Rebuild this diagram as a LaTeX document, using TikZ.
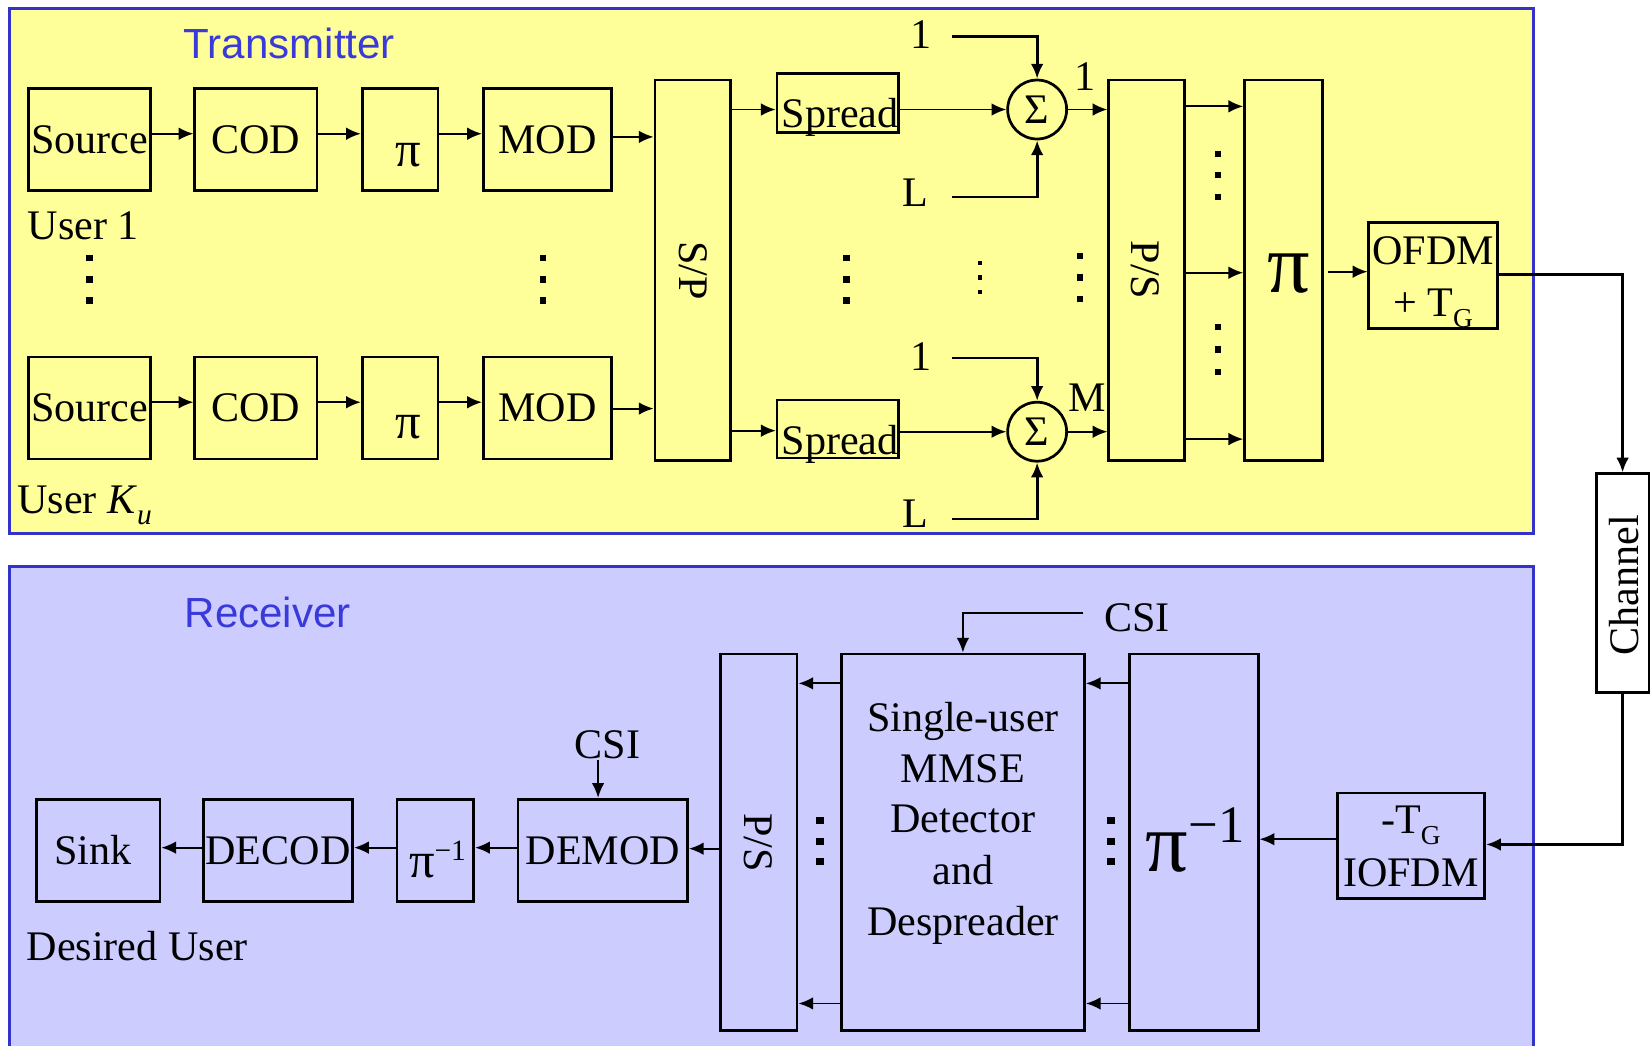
\documentclass[tikz,border=0pt]{standalone}
\usepackage{fontspec}
\setmainfont{Liberation Serif}
\newfontfamily\sansf{Liberation Sans}
\usetikzlibrary{arrows.meta}
\definecolor{txyellow}{HTML}{FFFF99}
\definecolor{rxblue}{HTML}{CCCCFF}
\definecolor{panelblue}{HTML}{3333CC}
\definecolor{titleblue}{HTML}{3A3ADB}
\newcommand\mydot[4]{\fill (#1-#3,#2-#4) rectangle (#1+#3,#2+#4);}
\begin{document}
\begin{tikzpicture}[x=0.5pt,y=-0.5pt,
  every node/.style={font=\fontsize{20}{24}\selectfont, inner sep=0pt},
  blk/.style={draw, line width=1.3pt, rectangle},
  lbl/.style={anchor=base},
  ttl/.style={font=\sansf\fontsize{20}{24}\selectfont, text=titleblue},
  arr/.style={line width=0.9pt, -{Latex[length=7pt,width=6pt]}},
  feed/.style={line width=1.3pt, -{Latex[length=7pt,width=6pt]}},
  bigpi/.style={font=\fontsize{40}{44}\selectfont}
]
\useasboundingbox (0,0) rectangle (1568,993);
% panels
\path[fill=txyellow, draw=panelblue, line width=1.5pt] (9,8) rectangle (1456,507);
\fill[rxblue] (9,538) rectangle (1456,993);
\draw[panelblue, line width=1.5pt] (9,993) -- (9,538) -- (1456,538) -- (1456,993);
\node[ttl, anchor=base west] (ttx) at (174,56) {Transmitter};
\node[ttl, anchor=base west] (trx) at (175,596) {Receiver};

% ---------- transmitter, user 1 ----------
\node[blk, minimum width=58pt, minimum height=48.5pt] (src1) at (85,132.5) {Source};
\node[blk, minimum width=58pt, minimum height=48.5pt] (cod1) at (243,132.5) {COD};
\node[blk, minimum width=36pt, minimum height=48.5pt] (pi1) at (380,132.5) {};
\node[lbl, font=\fontsize{24}{24}\selectfont] (pi1t) at (388,158) {π};
\node[blk, minimum width=61pt, minimum height=48.5pt] (mod1) at (520,132.5) {MOD};
% ---------- user Ku ----------
\node[blk, minimum width=58pt, minimum height=48.5pt] (src2) at (85,387.5) {Source};
\node[blk, minimum width=58pt, minimum height=48.5pt] (cod2) at (243,387.5) {COD};
\node[blk, minimum width=36pt, minimum height=48.5pt] (pi2) at (380,387.5) {};
\node[lbl, font=\fontsize{24}{24}\selectfont] (pi2t) at (388,416) {π};
\node[blk, minimum width=61pt, minimum height=48.5pt] (mod2) at (520,387.5) {MOD};

\node[anchor=base west] (u1) at (26,227) {User 1};
\node[anchor=base west] (uk) at (16,488) {User \textit{K}\raisebox{-5pt}{\fontsize{14}{14}\selectfont\textit{u}}};

% S/P
\node[blk, minimum width=36pt, minimum height=180.5pt] (sp) at (658,256.5) {};
\node[rotate=-90] (spt) at (658,257) {S/P};
% spread
\node[blk, minimum width=57.5pt, minimum height=28pt] (spr1) at (795.5,98) {};
\node[lbl] (spr1t) at (798,121) {Spread};
\node[blk, minimum width=57.5pt, minimum height=27.5pt] (spr2) at (795.5,407.5) {};
\node[lbl] (spr2t) at (798,432) {Spread};
% sums
\node[draw, circle, line width=1.3pt, minimum size=28pt] (sig1) at (985,104) {Σ};
\node[draw, circle, line width=1.3pt, minimum size=28pt] (sig2) at (985,410) {Σ};
\node[lbl] (l1a) at (875,46) {1};
\node[lbl] (lLa) at (869,196) {L};
\node[lbl] (l1b) at (875,352) {1};
\node[lbl] (lLb) at (869,501) {L};
\node[lbl] (o1) at (1030,86) {1};
\node[lbl] (oM) at (1033,391) {M};
\coordinate (in1a) at (904,35);
\coordinate (inLa) at (904,187);
\coordinate (in1b) at (904,340);
\coordinate (inLb) at (904,493);
% P/S and interleaver
\node[blk, minimum width=36pt, minimum height=180.5pt] (ps) at (1089,256.5) {};
\node[rotate=-90] (pst) at (1088,256.5) {P/S};
\node[blk, minimum width=37pt, minimum height=180.5pt] (pib) at (1219,256.5) {};
\node[lbl, bigpi] (pibt) at (1224,278) {π};
% OFDM
\node[blk, minimum width=61pt, minimum height=50.5pt] (ofdm) at (1361,261.5) {};
\node[lbl] (ofdmt1) at (1361,251.5) {OFDM};
\node[lbl] (ofdmt2) at (1361,301) {+ T\raisebox{-5pt}{\fontsize{13}{13}\selectfont G}};
% channel
\node[blk, fill=white, minimum width=25pt, minimum height=104pt] (chan) at (1541,554) {};
\node[rotate=90] (chant) at (1542,556) {Channel};

% dots transmitter
\foreach \x in {85,516,804}{\mydot{\x}{245}{3}{3}\mydot{\x}{265.5}{3}{3}\mydot{\x}{285.5}{3}{3}}
\mydot{1026}{243}{3}{3}\mydot{1026}{263.5}{3}{3}\mydot{1026}{284}{3}{3}
\mydot{931}{250}{2}{2}\mydot{931}{263.5}{2}{2}\mydot{931}{277}{2}{2}
\mydot{1157}{146}{3}{3}\mydot{1157}{166.5}{3}{3}\mydot{1157}{187}{3}{3}
\mydot{1157}{310.5}{3}{3}\mydot{1157}{332}{3}{3}\mydot{1157}{353}{3}{3}

% transmitter connectors
\draw[arr] (src1.east |- 0,127) -- (cod1.west |- 0,127);
\draw[arr] (cod1.east |- 0,127) -- (pi1.west |- 0,127);
\draw[arr] (pi1.east |- 0,127) -- (mod1.west |- 0,127);
\draw[arr] (mod1.east |- 0,130) -- (sp.west |- 0,130);
\draw[arr] (src2.east |- 0,382) -- (cod2.west |- 0,382);
\draw[arr] (cod2.east |- 0,382) -- (pi2.west |- 0,382);
\draw[arr] (pi2.east |- 0,382) -- (mod2.west |- 0,382);
\draw[arr] (mod2.east |- 0,388) -- (sp.west |- 0,388);
\draw[arr] (sp.east |- 0,104) -- (spr1.west |- 0,104);
\draw[arr] (sp.east |- 0,409) -- (spr2.west |- 0,409);
\draw[arr] (sig1.west -| spr1.east) -- (sig1.west);
\draw[arr] (sig2.west -| spr2.east) -- (sig2.west);
\draw[feed] (in1a) -- (in1a -| sig1.north) -- (sig1.north);
\draw[feed] (inLa) -- (inLa -| sig1.south) -- (sig1.south);
\draw[feed] (in1b) -- (in1b -| sig2.north) -- (sig2.north);
\draw[feed] (inLb) -- (inLb -| sig2.south) -- (sig2.south);
\draw[arr] (sig1.east) -- (sig1.east -| ps.west);
\draw[arr] (sig2.east) -- (sig2.east -| ps.west);
\draw[arr] (ps.east |- 0,101) -- (pib.west |- 0,101);
\draw[arr] (ps.east |- 0,259) -- (pib.west |- 0,259);
\draw[arr] (ps.east |- 0,417) -- (pib.west |- 0,417);
\draw[arr] ([xshift=2pt]pib.east |- 0,258) -- (ofdm.west |- 0,258);
\draw[feed] (ofdm.east |- 0,261) -- (chan.north |- 0,261) -- (chan.north);

% ---------- receiver ----------
\node[blk, minimum width=70pt, minimum height=50pt] (iofdm) at (1340,803) {};
\node[lbl] (iofdmt1) at (1340,792) {-T\raisebox{-5pt}{\fontsize{13}{13}\selectfont G}};
\node[lbl] (iofdmt2) at (1340,842) {IOFDM};
\node[blk, minimum width=61pt, minimum height=179pt] (pinv) at (1134,800) {};
\node[lbl] (pinvt) at (1135,828) {\fontsize{40}{40}\selectfont π\raisebox{14pt}{\fontsize{25}{25}\selectfont −1}};
\node[blk, minimum width=115.5pt, minimum height=179pt] (mmse) at (914.5,800) {};
\node[lbl] (mm1) at (914.5,695) {Single-user};
\node[lbl] (mm2) at (914.5,743) {MMSE};
\node[lbl] (mm3) at (914.5,791) {Detector};
\node[lbl] (mm4) at (914.5,840) {and};
\node[lbl] (mm5) at (914.5,888) {Despreader};
\node[blk, minimum width=36.5pt, minimum height=179pt] (rps) at (720.5,800) {};
\node[rotate=-90] (rpst) at (720,800) {P/S};
\node[blk, minimum width=80.5pt, minimum height=48.5pt] (demod) at (572.5,807.5) {DEMOD};
\node[blk, minimum width=36.5pt, minimum height=48.5pt] (pinv2) at (413.5,807.5) {};
\node[lbl] (pinv2t) at (415.5,833) {\fontsize{24}{24}\selectfont π\raisebox{8pt}{\fontsize{14}{14}\selectfont −1}};
\node[blk, minimum width=71pt, minimum height=48.5pt] (decod) at (264,807.5) {DECOD};
\node[blk, minimum width=58.5pt, minimum height=48.5pt] (sink) at (93.5,807.5) {};
\node[lbl] (sinkt) at (88,821) {Sink};
\node[anchor=base west] (desu) at (25,912) {Desired User};
\node[lbl] (csi1) at (1080,600) {CSI};
\node[lbl] (csi2) at (577,720) {CSI};
\coordinate (csiA) at (1029,582);
\coordinate (csiB) at (568,722);

% receiver dots
\foreach \x in {779,1055}{\mydot{\x}{779}{4}{3.2}\mydot{\x}{799.5}{4}{3.2}\mydot{\x}{818.5}{4}{3.2}}

% receiver connectors
\draw[feed] (chan.south) -- (chan.south |- 0,802) -- (iofdm.east |- 0,802);
\draw[arr] (iofdm.west |- 0,797) -- (pinv.east |- 0,797);
\draw[arr] (pinv.west |- 0,649) -- (mmse.east |- 0,649);
\draw[arr] (pinv.west |- 0,953) -- (mmse.east |- 0,953);
\draw[arr] (mmse.west |- 0,649) -- (rps.east |- 0,649);
\draw[arr] (mmse.west |- 0,953) -- (rps.east |- 0,953);
\draw[arr] (rps.west |- 0,806) -- (demod.east |- 0,806);
\draw[arr] (demod.west |- 0,805) -- (pinv2.east |- 0,805);
\draw[arr] (pinv2.west |- 0,805) -- (decod.east |- 0,805);
\draw[arr] (decod.west |- 0,805) -- (sink.east |- 0,805);
\draw[arr] (csiA) -- (csiA -| mmse.north) -- (mmse.north);
\draw[arr] (csiB) -- (csiB |- demod.north);
\end{tikzpicture}
\end{document}
